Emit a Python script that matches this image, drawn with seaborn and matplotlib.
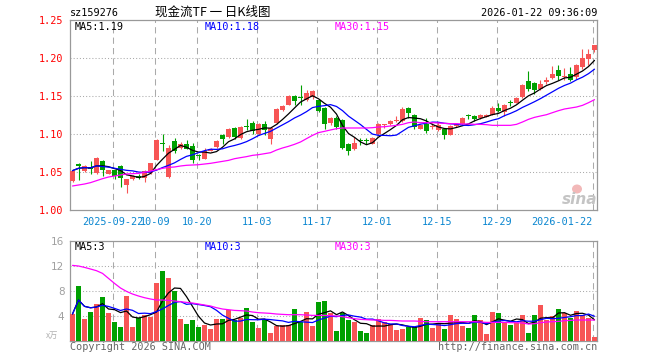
import numpy as np
import pandas as pd
import matplotlib
matplotlib.use("Agg")
import matplotlib.pyplot as plt
from matplotlib.patches import Ellipse
import seaborn as sns

# ---------------- data ----------------
code = "sz159276"
title = "现金流TF 一 日K线图"
stamp = "2026-01-22 09:36:09"

open_ = [1.0386, 1.0605, 1.0518, 1.0566, 1.0487, 1.0640, 1.0478, 1.0522, 1.0579, 1.0333,
         1.0404, 1.0447, 1.0421, 1.0491, 1.0662, 1.0877, 1.0434, 1.0904, 1.0820, 1.0868,
         1.0838, 1.0715, 1.0675, 1.0781, 1.0825, 1.0982, 1.0956, 1.1083, 1.0952, 1.1105,
         1.1149, 1.1004, 1.1132, 1.0930, 1.1149, 1.1320, 1.1386, 1.1500, 1.1478, 1.1443,
         1.1487, 1.1443, 1.1342, 1.1149, 1.1215, 1.1180, 1.0873, 1.0798, 1.0921, 1.0921,
         1.0873, 1.1004, 1.1114, 1.1136, 1.1175, 1.1175, 1.1346, 1.1254, 1.1070, 1.1136,
         1.1088, 1.1048, 1.1070, 1.0991, 1.1105, 1.1136, 1.1241, 1.1232, 1.1211, 1.1228,
         1.1254, 1.1346, 1.1289, 1.1417, 1.1412, 1.1487, 1.1693, 1.1675, 1.1596, 1.1684,
         1.1737, 1.1838, 1.1746, 1.1794, 1.1750, 1.1882, 1.1982, 1.2101]
close = [1.0518, 1.0579, 1.0575, 1.0544, 1.0689, 1.0522, 1.0522, 1.0447, 1.0421, 1.0404,
         1.0447, 1.0421, 1.0518, 1.0614, 1.0925, 1.0864, 1.0816, 1.0772, 1.0873, 1.0807,
         1.0654, 1.0706, 1.0772, 1.0807, 1.0904, 1.0939, 1.1070, 1.0956, 1.1092, 1.1092,
         1.1035, 1.1132, 1.1048, 1.1079, 1.1333, 1.1364, 1.1496, 1.1439, 1.1469, 1.1544,
         1.1570, 1.1298, 1.1136, 1.1215, 1.1092, 1.0816, 1.0772, 1.0886, 1.0912, 1.0908,
         1.0952, 1.1136, 1.1127, 1.1167, 1.1184, 1.1325, 1.1281, 1.1092, 1.1123, 1.1035,
         1.1096, 1.1114, 1.0991, 1.1101, 1.1127, 1.1211, 1.1232, 1.1193, 1.1254, 1.1254,
         1.1346, 1.1307, 1.1386, 1.1404, 1.1478, 1.1649, 1.1596, 1.1575, 1.1662, 1.1706,
         1.1794, 1.1763, 1.1763, 1.1706, 1.1912, 1.2000, 1.2057, 1.2167]
high = [1.0526, 1.0623, 1.0588, 1.0649, 1.0697, 1.0653, 1.0531, 1.0531, 1.0588, 1.0412,
        1.0456, 1.0478, 1.0531, 1.0623, 1.0939, 1.1000, 1.0860, 1.0947, 1.0895, 1.0917,
        1.0886, 1.0741, 1.0816, 1.0816, 1.0917, 1.1004, 1.1083, 1.1092, 1.1101, 1.1202,
        1.1167, 1.1149, 1.1167, 1.1092, 1.1342, 1.1386, 1.1509, 1.1509, 1.1649, 1.1575,
        1.1579, 1.1465, 1.1355, 1.1224, 1.1237, 1.1193, 1.0886, 1.0961, 1.0947, 1.0947,
        1.0961, 1.1149, 1.1136, 1.1180, 1.1237, 1.1355, 1.1355, 1.1268, 1.1136, 1.1211,
        1.1145, 1.1158, 1.1079, 1.1114, 1.1136, 1.1224, 1.1268, 1.1254, 1.1263, 1.1263,
        1.1368, 1.1412, 1.1399, 1.1443, 1.1487, 1.1662, 1.1825, 1.1684, 1.1706, 1.1750,
        1.1895, 1.1912, 1.1868, 1.1882, 1.1925, 1.2123, 1.2114, 1.2175]
low = [1.0368, 1.0390, 1.0500, 1.0478, 1.0478, 1.0447, 1.0469, 1.0412, 1.0303, 1.0219,
       1.0390, 1.0412, 1.0368, 1.0478, 1.0653, 1.0772, 1.0420, 1.0754, 1.0807, 1.0798,
       1.0623, 1.0654, 1.0667, 1.0772, 1.0816, 1.0873, 1.0947, 1.0939, 1.0939, 1.1048,
       1.1004, 1.0991, 1.0991, 1.0873, 1.1136, 1.1298, 1.1377, 1.1377, 1.1377, 1.1430,
       1.1465, 1.1289, 1.1070, 1.1114, 1.1070, 1.0798, 1.0728, 1.0785, 1.0860, 1.0873,
       1.0864, 1.0991, 1.1079, 1.1123, 1.1158, 1.1158, 1.1211, 1.1061, 1.1061, 1.1018,
       1.1070, 1.1035, 1.0939, 1.0982, 1.1096, 1.1123, 1.1202, 1.1175, 1.1202, 1.1219,
       1.1246, 1.1289, 1.1237, 1.1368, 1.1404, 1.1474, 1.1561, 1.1531, 1.1583, 1.1662,
       1.1728, 1.1706, 1.1706, 1.1693, 1.1728, 1.1851, 1.1912, 1.2079]
volume = [4.27, 8.75, 3.47, 4.59, 5.87, 6.99, 4.43, 2.99, 2.19, 7.15,
          2.19, 3.63, 4.05, 3.79, 9.23, 11.15, 10.03, 7.95, 3.47, 2.67,
          3.31, 2.19, 2.51, 1.87, 3.47, 3.47, 4.96, 3.31, 3.63, 5.23,
          2.99, 2.03, 3.47, 1.23, 2.35, 2.51, 2.51, 5.07, 2.93, 4.59,
          2.35, 6.19, 6.35, 4.40, 1.55, 4.48, 3.31, 3.04, 1.55, 1.23,
          2.51, 3.41, 2.99, 2.67, 1.71, 1.87, 2.19, 2.13, 3.63, 3.31,
          2.03, 2.77, 1.87, 4.11, 3.47, 2.35, 2.03, 4.11, 3.31, 1.07,
          4.59, 4.43, 2.99, 2.51, 2.83, 4.11, 1.23, 4.11, 5.71, 3.31,
          3.95, 5.07, 4.37, 3.63, 4.75, 4.11, 3.63, 0.59]
ma30_price = [1.0316, 1.0329, 1.0342, 1.0360, 1.0386, 1.0412, 1.0434, 1.0447, 1.0461, 1.0474,
              1.0478, 1.0482, 1.0496, 1.0513, 1.0531, 1.0548, 1.0561, 1.0566, 1.0579, 1.0588,
              1.0592, 1.0596, 1.0605, 1.0614, 1.0627, 1.0640, 1.0653, 1.0675, 1.0689, 1.0702,
              1.0719, 1.0728, 1.0741, 1.0754, 1.0789, 1.0816, 1.0838, 1.0864, 1.0895, 1.0939,
              1.0982, 1.1018, 1.1035, 1.1053, 1.1070, 1.1079, 1.1079, 1.1079, 1.1079, 1.1079,
              1.1083, 1.1092, 1.1096, 1.1105, 1.1114, 1.1127, 1.1149, 1.1158, 1.1149, 1.1149,
              1.1149, 1.1145, 1.1140, 1.1136, 1.1136, 1.1132, 1.1132, 1.1127, 1.1127, 1.1123,
              1.1114, 1.1114, 1.1114, 1.1114, 1.1127, 1.1158, 1.1193, 1.1219, 1.1237, 1.1254,
              1.1281, 1.1307, 1.1329, 1.1342, 1.1355, 1.1377, 1.1412, 1.1452]
ma30_vol = [12.05, 11.95, 11.73, 11.47, 11.20, 10.77, 9.97, 9.17, 8.43, 7.89,
            7.47, 7.15, 6.88, 6.67, 6.51, 6.51, 6.45, 6.35, 6.24, 6.13,
            6.03, 5.87, 5.71, 5.55, 5.28, 5.07, 4.96, 4.85, 4.80, 4.75,
            4.59, 4.48, 4.43, 4.37, 4.27, 4.21, 4.16, 4.16, 4.16, 4.11,
            4.05, 4.05, 4.05, 4.00, 3.95, 3.84, 3.68, 3.52, 3.41, 3.36,
            3.31, 3.31, 3.25, 3.25, 3.20, 3.15, 3.15, 3.15, 3.09, 3.04,
            3.04, 3.04, 3.04, 3.04, 3.04, 3.04, 3.04, 3.04, 2.99, 2.93,
            2.93, 2.93, 2.93, 2.88, 2.88, 2.83, 2.67, 2.72, 2.88, 2.99,
            3.04, 3.09, 3.20, 3.25, 3.31, 3.31, 3.31, 3.31]

tick_idx = [7, 14, 21, 31, 41, 51, 61, 71, 87]
tick_labels = ["2025-09-22", "10-09", "10-20", "11-03", "11-17",
               "12-01", "12-15", "12-29", "2026-01-22"]
price_ticks = [1.00, 1.05, 1.10, 1.15, 1.20, 1.25]
vol_ticks = [4, 8, 12, 16]
price_ma_labels = ["MA5:1.19", "MA10:1.18", "MA30:1.15"]
vol_ma_labels = ["MA5:3", "MA10:3", "MA30:3"]

# ---------------- style ----------------
sns.set_theme(style="white")
plt.rcParams['font.family'] = ['DejaVu Sans Mono', 'DejaVu Sans']
RED = '#f75555'
GREEN = '#00a000'
GRID = '#aaaaaa'
FRAME = '#999999'
DATEC = '#0a86d0'
MA_COLORS = ['#000000', '#0000ff', '#ff00ff']
W, H = 660, 360


def fx(x):
    return x / W


def fy(y):
    return 1 - y / H


fig = plt.figure(figsize=(6.6, 3.6), dpi=100)
ax = fig.add_axes([fx(70), fy(210), 527 / W, 190 / H])
axv = fig.add_axes([fx(70), fy(340.7), 527 / W, 100 / H])

n = len(close)
idx = np.arange(n)
o = np.array(open_); c = np.array(close); h = np.array(high); l = np.array(low)
up = c >= o
colors = np.where(up, RED, GREEN)

df = pd.DataFrame({'i': idx, 'open': o, 'close': c, 'vol': volume,
                   'dir': np.where(up, 'up', 'down')})
df['ma5'] = df['close'].rolling(5, min_periods=1).mean()
df['ma10'] = df['close'].rolling(10, min_periods=1).mean()
df['ma30'] = ma30_price
df['vma5'] = df['vol'].rolling(5, min_periods=1).mean()
df['vma10'] = df['vol'].rolling(10, min_periods=1).mean()
df['vma30'] = ma30_vol

XL = (-0.4167, n - 1 + 0.4167)
grid_x = [t - 0.3 for t in tick_idx]

# ---------------- price panel ----------------
for gx in grid_x:
    ax.axvline(gx, color=GRID, lw=0.75, ls=(0, (6, 4)), zorder=1)
    axv.axvline(gx, color=GRID, lw=0.75, ls=(0, (6, 4)), zorder=1)
for gy in price_ticks[1:-1]:
    ax.axhline(gy, color=GRID, lw=0.75, ls=(0, (1, 2)), zorder=1)
for gy in vol_ticks[:-1]:
    axv.axhline(gy, color=GRID, lw=0.75, ls=(0, (1, 2)), zorder=1)

ax.vlines(idx, l, h, colors=colors, lw=0.8, zorder=3)
body_bottom = np.minimum(o, c)
body_h = np.maximum(np.abs(c - o), 0.0014)
ax.bar(idx, body_h, bottom=body_bottom, width=0.833, color=colors, lw=0, zorder=4)

for col, mc in zip(['ma5', 'ma10', 'ma30'], MA_COLORS):
    sns.lineplot(data=df, x='i', y=col, ax=ax, color=mc, lw=0.9, zorder=5)

ax.set_xlim(*XL)
ax.set_ylim(1.00, 1.25)
ax.set_xticks(grid_x)
ax.set_xticklabels(tick_labels, color=DATEC, fontsize=7.3)
ax.get_xticklabels()[-1].set_ha('right')
ax.get_xticklabels()[-1].set_x(grid_x[-1])
ax.set_yticks(price_ticks)
ax.set_yticklabels([f"{v:.2f}" for v in price_ticks], color='#ff0000', fontsize=7.3)
ax.tick_params(axis='both', length=0)
ax.tick_params(axis='x', pad=5)
ax.tick_params(axis='y', pad=4.5)
ax.set_xlabel('')
ax.set_ylabel('')

# ---------------- volume panel ----------------
sns.barplot(data=df, x='i', y='vol', hue='dir',
            palette={'up': RED, 'down': GREEN}, dodge=False, width=0.833,
            saturation=1, linewidth=0, legend=False, ax=axv, zorder=3)
for col, mc in zip(['vma5', 'vma10', 'vma30'], MA_COLORS):
    sns.lineplot(data=df, x='i', y=col, ax=axv, color=mc, lw=0.9, zorder=5)
axv.set_xlim(*XL)
axv.set_ylim(0, 16)
axv.set_xticks(grid_x)
axv.set_xticklabels([])
axv.set_yticks(vol_ticks)
axv.set_yticklabels([str(v) for v in vol_ticks], color='#a0a0a0', fontsize=7.5,
                    family='DejaVu Sans')
axv.tick_params(axis='both', length=0)
axv.tick_params(axis='y', pad=4)
axv.set_xlabel('')
axv.set_ylabel('')

for a in (ax, axv):
    for s in a.spines.values():
        s.set_color(FRAME)
        s.set_linewidth(0.9)
        s.set_visible(True)

# ---------------- texts ----------------
fs = 7.3
fig.text(fx(70), fy(13), code, ha='left', va='center', fontsize=fs, color='black')
fig.text(fx(213), fy(12), title, ha='center', va='center', fontsize=9,
         family=['Noto Sans CJK SC', 'DejaVu Sans'], color='black')
fig.text(fx(597), fy(13), stamp, ha='right', va='center', fontsize=fs, color='black')

for lab, xp, mc in zip(price_ma_labels, [75, 205, 335], MA_COLORS):
    fig.text(fx(xp), fy(27), lab, ha='left', va='center', fontsize=fs, color=mc)
for lab, xp, mc in zip(vol_ma_labels, [75, 205, 335], MA_COLORS):
    fig.text(fx(xp), fy(246.5), lab, ha='left', va='center', fontsize=fs, color=mc)

fig.text(fx(70), fy(347), "Copyright 2026 SINA.COM", ha='left', va='center',
         fontsize=fs, color='#666666')
fig.text(fx(597), fy(347), "http://finance.sina.com.cn", ha='right', va='center',
         fontsize=fs, color='#666666')
fig.text(fx(52), fy(335), "x万", ha='center', va='center', fontsize=6,
         color='#b0b0b0', family=['Noto Sans CJK SC', 'DejaVu Sans'])

# sina watermark
fig.patches.append(Ellipse((fx(577), fy(189)), 10 / W, 9 / H, transform=fig.transFigure,
                           facecolor='#f2b8b8', edgecolor='none', zorder=0))
fig.text(fx(597), fy(200), "sina", ha='right', va='center', fontsize=11,
         style='italic', weight='bold', color='#c4c4c4', family='DejaVu Sans', zorder=0)

fig.savefig("out.png", dpi=100)
